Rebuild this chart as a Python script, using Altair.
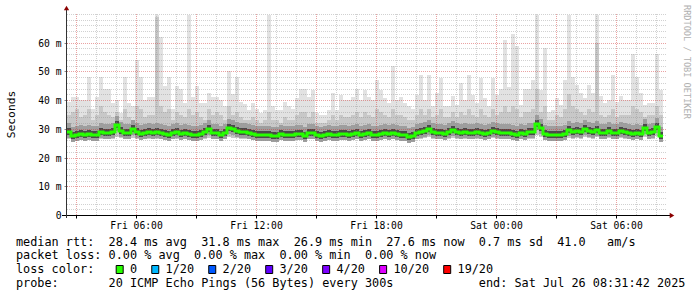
import altair as alt
import pandas as pd

# ---------------- data ----------------
# time axis: hours since Fri 00:00; graph covers Fri 02:31:42 .. Sat 08:31:42
START_H = 2 + 31 / 60 + 42 / 3600
STEP_H = 0.2  # one drawn column = 12 minutes

max_ms = [
    39.5, 41, 41, 40, 40, 48, 37, 41, 48, 44,
    44, 39, 40, 35.5, 48, 39, 38, 54, 48, 40,
    41, 41, 69.5, 62, 45, 48, 37, 45, 44, 39,
    69.5, 41, 45, 39, 39, 42.5, 41, 41, 40, 38,
    50, 42, 48, 39.5, 38.5, 36.7, 39, 37, 35.5, 36.7,
    69.5, 38, 36.7, 36.7, 39.5, 38, 37, 40.7, 44, 44,
    41, 43.5, 35.5, 35, 35, 36.7, 42.4, 36.7, 41.8, 40,
    40, 41, 44, 40, 43.5, 41, 40, 47, 43.5, 40.7,
    39, 52, 40, 41, 39, 37.8, 37, 41.8, 48.7, 40,
    48.7, 37.8, 42.4, 47.6, 37.8, 38, 41.3, 38.4, 45.9, 40,
    48.7, 41.8, 39, 47.6, 40.7, 38, 47.6, 41.8, 44, 60.8,
    44.7, 63, 59, 38.4, 44, 44, 47, 69.5, 43.5, 58,
    36, 36.7, 40.7, 38.4, 47, 69.5, 48.2, 45.3, 42.4, 40.7,
    45.3, 42.4, 69.5, 41.3, 39, 40, 48.7, 39.5, 41.3, 40,
    40, 56, 48.2, 42.4, 38.4, 39, 39, 56, 43.5,
]
hi_ms = [
    35, 36, 37, 34, 35, 37, 33, 35, 38, 36,
    35, 34, 36, 33, 37, 34, 33, 38, 37, 34,
    35, 35, 69, 38, 36, 37, 33, 36, 35, 34,
    37, 35, 36, 34, 33, 37, 35, 36, 35, 33,
    38, 35, 36, 34, 33, 33, 34, 33, 32, 33,
    36, 33, 33, 32, 34, 33, 33, 35, 36, 36,
    34, 36, 32, 32, 32, 33, 35, 33, 35, 34,
    34, 35, 36, 34, 36, 35, 34, 37, 36, 35,
    34, 37, 35, 35, 34, 33, 33, 35, 37, 35,
    37, 34, 35, 37, 34, 34, 36, 34, 36, 35,
    37, 35, 34, 37, 35, 34, 37, 35, 36, 38,
    36, 38, 37, 34, 36, 36, 37, 44, 36, 38,
    33, 33, 35, 34, 37, 42, 38, 37, 36, 35,
    37, 36, 60, 35, 34, 35, 37, 34, 35, 35,
    35, 38, 37, 36, 34, 35, 35, 38, 35,
]
median_ms = [
    29.0, 27.6, 28.0, 28.2, 28.0, 28.3, 27.8, 28.0, 28.9, 28.6,
    28.5, 29.0, 31.5, 29.2, 28.6, 28.4, 29.9, 28.9, 28.3, 28.5,
    28.8, 28.6, 29.0, 28.6, 28.2, 28.0, 28.5, 28.8, 28.3, 28.6,
    28.2, 28.0, 27.8, 28.2, 29.0, 29.9, 28.4, 28.6, 28.0, 28.6,
    30.3, 29.8, 29.4, 28.9, 28.8, 28.4, 28.2, 27.7, 27.8, 28.0,
    27.9, 27.5, 27.6, 28.1, 28.0, 27.8, 27.7, 28.3, 28.1, 27.6,
    28.4, 28.6, 28.0, 27.5, 27.9, 28.1, 27.8, 27.7, 28.3, 28.1,
    27.9, 28.2, 28.4, 28.0, 28.2, 28.4, 28.0, 27.8, 28.2, 28.4,
    28.3, 28.5, 28.2, 28.0, 27.8, 27.2, 27.6, 28.4, 28.9, 29.3,
    29.8, 28.9, 28.4, 28.6, 28.2, 28.8, 29.5, 28.8, 28.6, 28.9,
    28.4, 28.6, 28.8, 28.5, 28.2, 28.4, 29.3, 28.8, 28.5, 28.6,
    28.4, 28.3, 28.0, 28.4, 28.3, 28.8, 29.0, 31.8, 30.3, 28.2,
    27.9, 27.7, 27.8, 28.0, 28.1, 29.5, 29.0, 29.1, 28.8, 30.0,
    29.2, 29.0, 29.7, 28.6, 28.5, 29.1, 28.6, 28.5, 29.1, 28.9,
    28.4, 28.3, 28.4, 28.2, 30.2, 28.4, 28.8, 30.6, 27.6,
]
min_ms = [
    26.4, 26.0, 26.2, 26.5, 26.3, 26.4, 26.1, 26.3, 26.6, 26.5,
    26.4, 26.6, 27.0, 26.7, 26.4, 26.3, 26.8, 26.6, 26.3, 26.4,
    26.5, 26.4, 26.6, 26.4, 26.2, 26.1, 26.4, 26.5, 26.3, 26.4,
    26.2, 26.1, 26.0, 26.2, 26.6, 26.9, 26.3, 26.4, 26.1, 26.4,
    27.0, 26.8, 26.7, 26.5, 26.5, 26.3, 26.2, 26.0, 26.0, 26.1,
    26.1, 25.9, 25.9, 26.2, 26.1, 26.0, 26.0, 26.3, 26.2, 25.9,
    26.3, 26.4, 26.1, 25.8, 26.0, 26.2, 26.0, 26.0, 26.3, 26.2,
    26.1, 26.2, 26.3, 26.1, 26.2, 26.3, 26.1, 26.0, 26.2, 26.3,
    26.3, 26.4, 26.2, 26.1, 26.0, 25.7, 25.9, 26.3, 26.6, 26.8,
    27.0, 26.6, 26.3, 26.4, 26.2, 26.5, 26.9, 26.5, 26.4, 26.6,
    26.3, 26.4, 26.5, 26.4, 26.2, 26.3, 26.8, 26.5, 26.4, 26.4,
    26.3, 26.3, 26.1, 26.3, 26.3, 26.5, 26.6, 27.8, 27.2, 26.2,
    26.0, 25.9, 26.0, 26.1, 26.2, 26.9, 26.6, 26.7, 26.5, 27.1,
    26.7, 26.6, 27.0, 26.4, 26.3, 26.7, 26.4, 26.3, 26.7, 26.6,
    26.3, 26.2, 26.3, 26.2, 27.2, 26.3, 26.5, 27.4, 25.9,
]

y_label_values = [0, 10, 20, 30, 40, 50, 60]
x_tick_hours = [3, 6, 9, 12, 15, 18, 21, 24, 27, 30]

stats_rtt = ["28.4 ms avg", "31.8 ms max", "26.9 ms min", "27.6 ms now", "0.7 ms sd", "41.0", "am/s"]
stats_loss = ["0.00 % avg", "0.00 % max", "0.00 % min", "0.00 % now"]
loss_labels = ["0", "1/20", "2/20", "3/20", "4/20", "10/20", "19/20"]
loss_colors = ["#26ff00", "#00b8ff", "#0059ff", "#5e00ff", "#7e00ff", "#dd00ff", "#ff0000"]
probe_text = "20 ICMP Echo Pings (56 Bytes) every 300s"
end_text = "end: Sat Jul 26 08:31:42 2025"
watermark = "RRDTOOL / TOBI OETIKER"

# ---------------- tables ----------------
n = len(max_ms)
t0 = [START_H + i * STEP_H for i in range(n)]
smoke = pd.DataFrame({
    "t0": t0, "t1": [t + STEP_H for t in t0],
    "mn": min_ms, "hi": hi_ms, "mx": max_ms, "med": median_ms,
})
line_df = pd.DataFrame({"t": t0 + [t0[-1] + STEP_H], "med": median_ms + [median_ms[-1]]})

hgrid = pd.DataFrame({"v": list(range(2, 71, 2))})
hgrid["major"] = (hgrid["v"] % 10 == 0) & (hgrid["v"] < 70)
vgrid = pd.DataFrame({"h": list(range(3, 33))})
vgrid["major"] = vgrid["h"] % 3 == 0
dummy = pd.DataFrame({"a": [0]})

# ---------------- layout ----------------
W, H = 600, 201
MONO = "DejaVu Sans Mono"
CW = 7.12          # character advance of legend font
LEG_FS = 11.83
LEG_X = -51
LEG_BASE = [231.6, 245.3, 259.0, 272.7]

xs = alt.Scale(domain=[START_H, START_H + 30], nice=False, zero=False, round=True)
ys = alt.Scale(domain=[0, 70], nice=False, zero=True, round=True)

x_axis = alt.Axis(
    values=x_tick_hours, title="", grid=False, domain=False,
    labelExpr="datum.value % 6 == 0 ? ((datum.value < 24 ? 'Fri ' : 'Sat ') + "
              "((datum.value % 24) < 10 ? '0' : '') + (datum.value % 24) + ':00') : ''",
    labelFont=MONO, labelFontSize=9.7, labelColor="#000", labelPadding=2,
    labelOverlap=False, labelFlush=False, tickSize=3, tickColor="#000",
)
y_axis = alt.Axis(
    values=y_label_values, grid=False, domain=False,
    labelExpr="datum.value == 0 ? '0' : datum.value + ' m'",
    labelFont=MONO, labelFontSize=9.7, labelColor="#000", labelPadding=3,
    tickSize=3, tickColor="#888",
    title="Seconds", titleFont=MONO, titleFontSize=11.3, titleFontWeight="normal",
    titleColor="#000", titleAngle=270, titleX=-56, titleY=100,
    titleAlign="center", titleBaseline="middle",
)


def X(f):
    return alt.X(f, type="quantitative", scale=xs, axis=x_axis)


def Y(f):
    return alt.Y(f, type="quantitative", scale=ys, axis=y_axis)


sb = alt.Chart(smoke)
light = sb.mark_rect(color="#e2e2e2").encode(x=X("t0"), x2="t1", y=Y("mx"), y2="mn")
mid = sb.mark_rect(color="#c8c8c8").encode(x=X("t0"), x2="t1", y=Y("hi"), y2="mn")
band = sb.mark_rect(color="#9e9e9e", yOffset=-9, y2Offset=6).encode(
    x=X("t0"), x2="t1", y=Y("med"), y2="med")
dark = sb.mark_rect(color="#4a4a4a", yOffset=-4, y2Offset=3).encode(
    x=X("t0"), x2="t1", y=Y("med"), y2="med")

gh_minor = alt.Chart(hgrid[~hgrid["major"]]).mark_rule(
    color="#8c8c8c", opacity=0.4, strokeDash=[1, 1], strokeWidth=1, yOffset=0.5
).encode(x=alt.value(0), x2=alt.value(W), y=Y("v"))
gh_major = alt.Chart(hgrid[hgrid["major"]]).mark_rule(
    color="#d03030", opacity=0.45, strokeDash=[1, 1], strokeWidth=1, yOffset=0.5
).encode(x=alt.value(0), x2=alt.value(W), y=Y("v"))
gv_minor = alt.Chart(vgrid[~vgrid["major"]]).mark_rule(
    color="#8c8c8c", opacity=0.4, strokeDash=[1, 1], strokeWidth=1, xOffset=0.5
).encode(x=X("h"), y=alt.value(0), y2=alt.value(H))
gv_major = alt.Chart(vgrid[vgrid["major"]]).mark_rule(
    color="#d03030", opacity=0.45, strokeDash=[1, 1], strokeWidth=1, xOffset=0.5
).encode(x=X("h"), y=alt.value(0), y2=alt.value(H))

median_line = alt.Chart(line_df).mark_line(
    color="#26ff00", strokeWidth=3, interpolate="step-after"
).encode(x=X("t"), y=Y("med"))

db = alt.Chart(dummy)
x_axis_line = db.mark_rule(color="#000", strokeWidth=1).encode(
    x=alt.value(-5), x2=alt.value(603), y=alt.value(H + 0.5))
y_axis_line = db.mark_rule(color="#333", strokeWidth=1).encode(
    x=alt.value(-0.5), y=alt.value(-4), y2=alt.value(H + 3))
arrow_x = db.mark_point(shape="triangle-right", filled=True, color="#8b0000", size=28, opacity=1).encode(
    x=alt.value(605), y=alt.value(H + 0.5))
arrow_y = db.mark_point(shape="triangle-up", filled=True, color="#8b0000", size=28, opacity=1).encode(
    x=alt.value(-0.5), y=alt.value(-6))

wm = db.mark_text(angle=90, align="left", baseline="middle", font=MONO, fontSize=8.6,
                  color="#b0b0b0").encode(x=alt.value(620.3), y=alt.value(-9), text=alt.value(watermark))


def nb(s):
    return s.replace(" ", "\u00a0")


line1 = "median rtt:  " + "  ".join(stats_rtt[:6]) + "   " + stats_rtt[6]
line2 = "packet loss: " + "  ".join(stats_loss)
line3 = "loss color:   "
swatch_cols = []
for lab in loss_labels:
    swatch_cols.append(len(line3))
    line3 += " " + " " + lab + "  "
line4 = ("probe:".ljust(13) + probe_text).ljust(65) + end_text

texts = []
for s, b in zip([line1, line2, line3, line4], LEG_BASE):
    texts.append(db.mark_text(align="left", baseline="alphabetic", font=MONO, fontSize=LEG_FS,
                              color="#000").encode(x=alt.value(LEG_X), y=alt.value(b), text=alt.value(nb(s))))

swatches = []
for c, col in zip(swatch_cols, loss_colors):
    x0 = LEG_X + c * CW
    swatches.append(db.mark_rect(fill=col, stroke="#000", strokeWidth=1).encode(
        x=alt.value(x0 + 0.5), x2=alt.value(x0 + 7.5),
        y=alt.value(LEG_BASE[2] - 7.5), y2=alt.value(LEG_BASE[2] + 0.5)))

chart = alt.layer(
    light, mid, band, dark,
    gh_minor, gh_major, gv_minor, gv_major,
    median_line,
    x_axis_line, y_axis_line, arrow_x, arrow_y, wm,
    *texts, *swatches,
).properties(
    width=W, height=H,
    autosize=alt.AutoSizeParams(type="none"),
    padding={"left": 67, "top": 14, "right": 30, "bottom": 82},
    background="white",
).configure_view(strokeWidth=0)

chart.save("out.html", embed_options={"renderer": "svg", "actions": False})
